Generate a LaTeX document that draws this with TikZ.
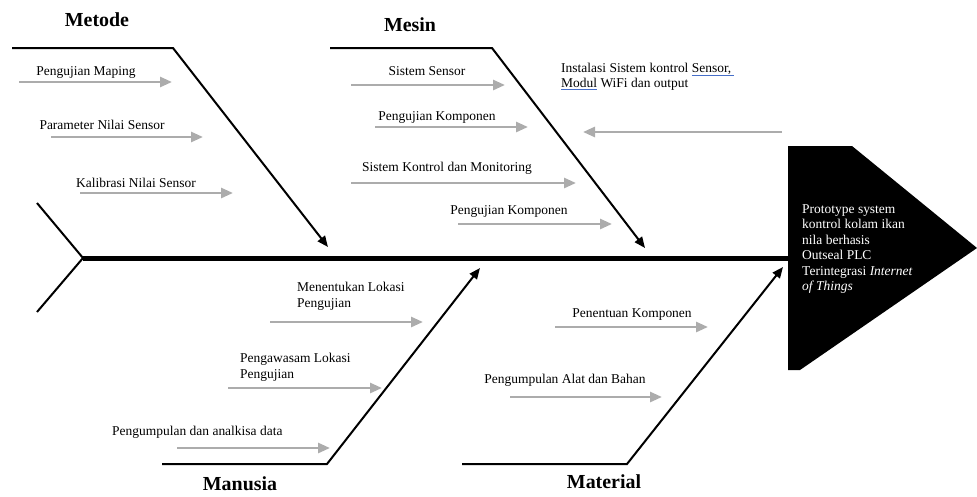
\documentclass[tikz,border=0pt]{standalone}
\usepackage{fontspec}
\setmainfont{Liberation Serif}
\usetikzlibrary{arrows.meta}
\definecolor{spellblue}{RGB}{70,110,200}
\tikzset{
  spine/.style={line width=0.15cm},
  bone/.style={line width=0.06cm, -{Triangle[length=0.33cm,width=0.27cm]}},
  cause/.style={draw=gray!65, line width=0.08cm, -{Triangle[length=0.36cm,width=0.30cm]}},
  causetext/.style={font=\fontsize{11.5}{13.2}\selectfont, inner sep=0, align=left},
  header/.style={font=\fontsize{17}{20}\selectfont\bfseries, inner sep=0},
}
\newcommand{\spellmark}[1]{\textcolor{spellblue}{\underline{\textcolor{black}{#1}}}}
\begin{document}
\begin{tikzpicture}
            \useasboundingbox (0,0) rectangle (29.310000,14.880000);
            
            % Drawing head (effect)
            \fill (23.640000,10.500000) -- (25.560000,10.500000) -- (29.310000,7.440000) -- (24.000000,3.780000) -- (23.640000,3.780000) -- cycle;%
            \node (effect) [causetext, text=white, anchor=west] at (24.060000,7.410000) {Prototype system\\kontrol kolam ikan\\nila berhasis\\Outseal PLC\\Terintegrasi \textit{Internet}\\\textit{of Things}};%
            
            % Drawing spine and tail
            \coordinate (tail) at (2.490000,7.140000);
            \coordinate (head) at (23.640000,7.140000);
            \coordinate (tailup) at (1.110000,8.790000);
            \coordinate (taildown) at (1.110000,5.520000);
            \draw [spine] (tail) -- (head);%
            \draw [line width=0.06cm] (tailup) -- (tail) -- (taildown);%
            
            % Drawing bone Metode
            \coordinate (metodeA) at (0.360000,13.440000);
            \coordinate (metodeB) at (5.190000,13.440000);
            \coordinate (metodeC) at (9.840000,7.470000);
            \draw [bone] (metodeA) -- (metodeB) -- (metodeC);%
            \node (metode) [header] at (2.910000,14.280000) {Metode};%
            
            % Drawing bone Mesin
            \coordinate (mesinA) at (9.900000,13.440000);
            \coordinate (mesinB) at (14.760000,13.440000);
            \coordinate (mesinC) at (19.350000,7.440000);
            \draw [bone] (mesinA) -- (mesinB) -- (mesinC);%
            \node (mesin) [header] at (12.300000,14.130000) {Mesin};%
            
            % Drawing bone Manusia
            \coordinate (manusiaA) at (4.860000,0.960000);
            \coordinate (manusiaB) at (9.810000,0.960000);
            \coordinate (manusiaC) at (14.400000,6.840000);
            \draw [bone] (manusiaA) -- (manusiaB) -- (manusiaC);%
            \node (manusia) [header] at (7.200000,0.360000) {Manusia};%
            
            % Drawing bone Material
            \coordinate (materialA) at (13.860000,0.960000);
            \coordinate (materialB) at (18.810000,0.960000);
            \coordinate (materialC) at (23.490000,6.870000);
            \draw [bone] (materialA) -- (materialB) -- (materialC);%
            \node (material) [header] at (18.120000,0.420000) {Material};%
            
            % Marking causes of Metode
            \node (mtA) [causetext] at (2.580000,12.720000) {Pengujian Maping};%
            \coordinate (mtA1) at (0.570000,12.420000);
            \coordinate (mtA2) at (5.160000,12.420000);
            \draw [cause] (mtA1) -- (mtA2);%
            \node (mtB) [causetext] at (3.060000,11.130000) {Parameter Nilai Sensor};%
            \coordinate (mtB1) at (1.530000,10.770000);
            \coordinate (mtB2) at (6.090000,10.770000);
            \draw [cause] (mtB1) -- (mtB2);%
            \node (mtC) [causetext] at (4.080000,9.390000) {Kalibrasi Nilai Sensor};%
            \coordinate (mtC1) at (2.400000,9.090000);
            \coordinate (mtC2) at (6.990000,9.090000);
            \draw [cause] (mtC1) -- (mtC2);%
            
            % Marking causes of Mesin
            \node (msA) [causetext] at (12.810000,12.750000) {Sistem Sensor};%
            \coordinate (msA1) at (10.530000,12.330000);
            \coordinate (msA2) at (15.150000,12.330000);
            \draw [cause] (msA1) -- (msA2);%
            \node (msB) [causetext] at (13.110000,11.370000) {Pengujian Komponen};%
            \coordinate (msB1) at (11.250000,11.070000);
            \coordinate (msB2) at (15.840000,11.070000);
            \draw [cause] (msB1) -- (msB2);%
            \node (msC) [causetext] at (13.410000,9.840000) {Sistem Kontrol dan Monitoring};%
            \coordinate (msC1) at (10.530000,9.390000);
            \coordinate (msC2) at (17.280000,9.390000);
            \draw [cause] (msC1) -- (msC2);%
            \node (msD) [causetext] at (15.270000,8.550000) {Pengujian Komponen};%
            \coordinate (msD1) at (13.740000,8.160000);
            \coordinate (msD2) at (18.360000,8.160000);
            \draw [cause] (msD1) -- (msD2);%
            
            % Marking installation note
            \node (install) [causetext, anchor=west] at (16.830000,12.585000) {Instalasi Sistem kontrol \spellmark{Sensor,\,}\\\spellmark{Modul} WiFi dan output};%
            \coordinate (install1) at (23.460000,10.920000);
            \coordinate (install2) at (17.490000,10.920000);
            \draw [cause] (install1) -- (install2);%
            
            % Marking causes of Manusia
            \node (mnA) [causetext, anchor=west] at (8.910000,5.985000) {Menentukan Lokasi\\Pengujian};%
            \coordinate (mnA1) at (8.100000,5.220000);
            \coordinate (mnA2) at (12.690000,5.220000);
            \draw [cause] (mnA1) -- (mnA2);%
            \node (mnB) [causetext, anchor=west] at (7.200000,3.855000) {Pengawasam Lokasi\\Pengujian};%
            \coordinate (mnB1) at (6.840000,3.240000);
            \coordinate (mnB2) at (11.460000,3.240000);
            \draw [cause] (mnB1) -- (mnB2);%
            \node (mnC) [causetext, anchor=west] at (3.360000,1.920000) {Pengumpulan dan analkisa data};%
            \coordinate (mnC1) at (5.310000,1.440000);
            \coordinate (mnC2) at (9.900000,1.440000);
            \draw [cause] (mnC1) -- (mnC2);%
            
            % Marking causes of Material
            \node (maA) [causetext] at (18.960000,5.430000) {Penentuan Komponen};%
            \coordinate (maA1) at (16.650000,5.070000);
            \coordinate (maA2) at (21.240000,5.070000);
            \draw [cause] (maA1) -- (maA2);%
            \node (maB) [causetext] at (16.950000,3.480000) {Pengumpulan Alat dan Bahan};%
            \coordinate (maB1) at (15.300000,2.970000);
            \coordinate (maB2) at (19.860000,2.970000);
            \draw [cause] (maB1) -- (maB2);%
        \end{tikzpicture}
\end{document}
